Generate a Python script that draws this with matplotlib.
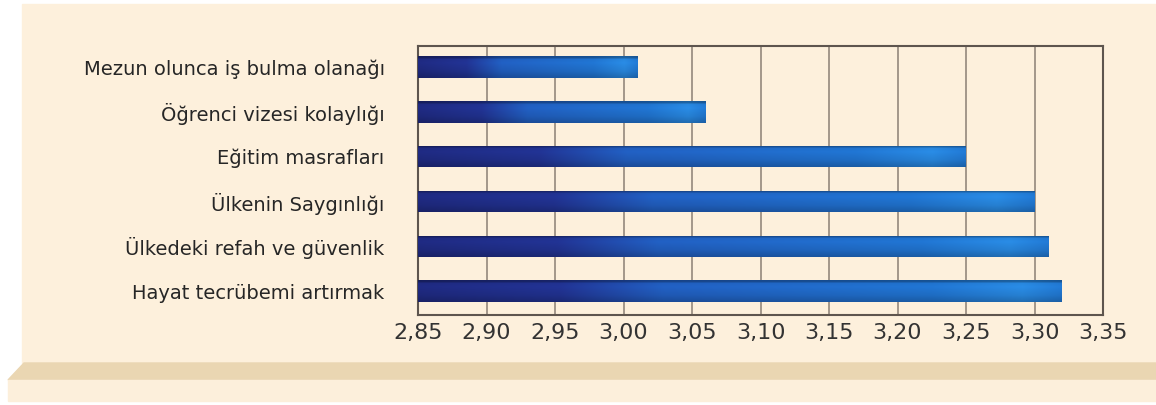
import numpy as np
import matplotlib.pyplot as plt
from matplotlib.patches import Rectangle, Polygon
from matplotlib.colors import to_rgb
from matplotlib.ticker import FuncFormatter

categories = ['Mezun olunca iş bulma olanağı',
              'Öğrenci vizesi kolaylığı',
              'Eğitim masrafları',
              'Ülkenin Saygınlığı',
              'Ülkedeki refah ve güvenlik',
              'Hayat tecrübemi artırmak']
values = [3.01, 3.06, 3.25, 3.30, 3.31, 3.32]
x_ticks = [2.85, 2.90, 2.95, 3.00, 3.05, 3.10, 3.15, 3.20, 3.25, 3.30, 3.35]

W, H = 1156, 405
fig = plt.figure(figsize=(W / 100, H / 100), dpi=100, facecolor='white')

# cream panel and the shelf under it (behind the axes)
fig.patches.append(Rectangle((22 / W, 1 - 363 / H), 1 - 22 / W, (363 - 4) / H,
                             transform=fig.transFigure, color='#fdf0dc', zorder=-5))
fig.patches.append(Polygon([(8 / W, 1 - 380 / H), (24 / W, 1 - 363 / H),
                            (1, 1 - 363 / H), (1, 1 - 380 / H)],
                           transform=fig.transFigure, color='#ead6b2', zorder=-5))
fig.patches.append(Rectangle((8 / W, 1 - 401 / H), 1 - 8 / W, 21 / H,
                             transform=fig.transFigure, color='#fcefdb', zorder=-5))

ax = fig.add_axes([418 / W, 1 - 315 / H, 685 / W, 269 / H])
ax.set_facecolor('none')

y = np.arange(len(categories))
bar_h = 0.48
x0 = x_ticks[0]
bars = ax.barh(y, np.array(values) - x0, left=x0, height=bar_h,
               color='#1f5ab5', zorder=3)

# gradient fill for each bar: dark navy on the left, brighter blue to the right
stops = [(0.0, '#1d2778'), (0.22, '#1f2f88'), (0.38, '#1f58b3'),
         (0.8, '#1e6cc2'), (0.94, '#2680d2'), (1.0, '#1f70c4')]
nx, ny = 300, 30
t = np.linspace(0, 1, nx)
pos = [s[0] for s in stops]
cols = np.array([to_rgb(s[1]) for s in stops])
ramp = np.stack([np.interp(t, pos, cols[:, k]) for k in range(3)], axis=1)
v = np.linspace(0, 1, ny)
shade = np.interp(v, [0, 0.08, 0.12, 0.3, 0.7, 1.0],
                  [0.75, 0.8, 1.06, 1.1, 1.0, 0.85])
img = np.clip(ramp[None, :, :] * shade[:, None, None], 0, 1)
for rect, val, yy in zip(bars, values, y):
    im = ax.imshow(img, extent=(x0, val, yy + bar_h / 2, yy - bar_h / 2),
                   aspect='auto', zorder=4, interpolation='bilinear')
    im.set_clip_path(rect)

ax.set_xlim(x_ticks[0], x_ticks[-1])
ax.set_ylim(len(categories) - 0.47, -0.47)
ax.set_xticks(x_ticks)
ax.xaxis.set_major_formatter(FuncFormatter(lambda v, p: f'{v:.2f}'.replace('.', ',')))
ax.set_yticks(y)
ax.set_yticklabels(categories)
ax.grid(axis='x', color='#8b7f74', lw=1.1, zorder=1)
ax.set_axisbelow(True)
ax.tick_params(axis='x', length=0, pad=6, labelsize=16, labelcolor='#333333')
ax.tick_params(axis='y', length=0, pad=24, labelsize=14, labelcolor='#262626')
for sp in ax.spines.values():
    sp.set_color('#5e554e')
    sp.set_linewidth(1.5)

fig.savefig('out.png', dpi=100)
